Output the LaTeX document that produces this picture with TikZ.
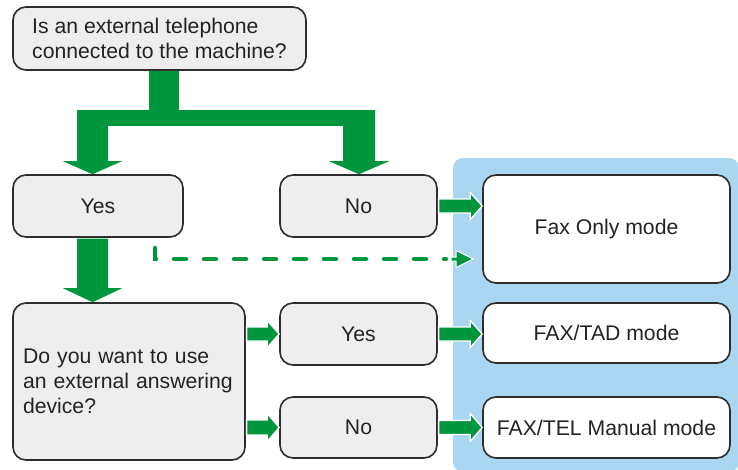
\documentclass[tikz,border=0pt]{standalone}
\usepackage{fontspec}
\setmainfont{Liberation Sans}
\usetikzlibrary{calc}
\definecolor{fgreen}{RGB}{0,150,62}
\definecolor{panelblue}{RGB}{170,214,242}
\definecolor{boxgray}{RGB}{238,238,238}
\definecolor{boxline}{RGB}{45,45,45}
\definecolor{txt}{RGB}{35,35,35}
% horizontal fat arrow: #1 start point, #2 target point (x used), #3 shaft half, #4 head half, #5 head length
\newcommand\harrow[5]{%
  \path[arrowfill] let \p1=(#1), \p2=(#2) in
   (\x1,\y1+#3) -- (\x2-#5,\y1+#3) -- (\x2-#5,\y1+#4) -- (\x2,\y1)
   -- (\x2-#5,\y1-#4) -- (\x2-#5,\y1-#3) -- (\x1,\y1-#3) -- cycle;}
% vertical fat arrow (downwards): #1 start point, #2 target point (y used)
\newcommand\varrow[5]{%
  \path[fill=fgreen] let \p1=(#1), \p2=(#2) in
   (\x1-#3,\y1) -- (\x1-#3,\y2+#5) -- (\x1-#4,\y2+#5) -- (\x1,\y2)
   -- (\x1+#4,\y2+#5) -- (\x1+#3,\y2+#5) -- (\x1+#3,\y1) -- cycle;}
\begin{document}
\begin{tikzpicture}[x=1pt,y=-1pt,
  box/.style={draw=boxline, line width=1.6pt, rounded corners=13pt, fill=boxgray,
    inner sep=0pt, text=txt, font=\fontsize{21.2}{25}\selectfont},
  result/.style={box, fill=white},
  arrowfill/.style={fill=fgreen, draw=white, line width=1.3pt},
  dashline/.style={draw=fgreen, line width=4.5pt, line cap=round, dash pattern=on 12pt off 18pt}
]
\useasboundingbox (0,0) rectangle (738,469);
\fill[white] (0,0) rectangle (738,469);
% blue panel
\fill[panelblue, rounded corners=10pt] (453,158) rectangle (739,472);

% branching arrow from the first question (drawn below the boxes)
\coordinate (stem) at (163.5,70);
\coordinate (bl) at (92.5,110);
\coordinate (br) at (359,110);
\fill[fgreen] ($(stem)+(-15,0)$) rectangle ($(stem)+(15,56)$);
\fill[fgreen] (77,110) rectangle (375,126);

% nodes
\node[box, minimum width=293pt, minimum height=63pt, align=left] (q1) at (159.5,38.5)
  {Is an external telephone\\connected to the machine?};
\node[box, minimum width=170pt, minimum height=62pt] (yes1) at (98,206) {Yes};
\node[box, minimum width=157pt, minimum height=62pt] (no1) at (358.5,206) {No};
\node[box, minimum width=232pt, minimum height=157pt, inner xsep=10pt, text width=212pt, align=left] (q2) at (129,381.5)
  {Do you want to use\\an external answering\\device?};
\node[box, minimum width=157pt, minimum height=62pt] (yes2) at (358.5,334) {Yes};
\node[box, minimum width=157pt, minimum height=61pt] (no2) at (358.5,427.5) {No};
\node[result, minimum width=247pt, minimum height=108pt] (fax) at (606.5,229) {Fax Only mode};
\node[result, minimum width=247pt, minimum height=60pt] (tad) at (606.5,333) {FAX/TAD mode};
\node[result, minimum width=247pt, minimum height=61pt] (tel) at (606.5,427.5) {FAX/TEL Manual mode};

\varrow{bl}{yes1.north}{15.5pt}{29.5pt}{13pt}
\varrow{br}{no1.north}{16pt}{30pt}{13pt}

% Yes -> second question
\varrow{$(yes1.south)+(-5.5,0.8)$}{q2.north}{15.5pt}{29.5pt}{14pt}

% horizontal arrows
\harrow{$(no1.east)+(0.8,0)$}{fax.west}{7pt}{13.5pt}{12pt}
\harrow{$(q2.east |- yes2.west)+(0.8,0)$}{yes2.west}{7pt}{13.5pt}{12pt}
\harrow{$(q2.east |- no2.west)+(0.8,0)$}{no2.west}{7.5pt}{14pt}{12pt}
\harrow{$(yes2.east)+(0.8,0)$}{tad.west}{7pt}{13.5pt}{12pt}
\harrow{$(no2.east)+(0.8,0)$}{tel.west}{7pt}{14pt}{12pt}

% dashed arrow from Yes to Fax Only mode
\coordinate (ds) at (155,248);
\coordinate (de) at ($(fax.west)+(-9,30)$);
\draw[dashline] (ds) |- (de -| 446,0);
\path[fill=fgreen, draw=white, line width=1pt] let \p1=(de) in
  (\x1-17pt,\y1+2pt) -- (\x1-17pt,\y1+8.5pt) -- (\x1,\y1) -- (\x1-17pt,\y1-8.5pt) -- (\x1-17pt,\y1-2pt)
  -- (\x1-22pt,\y1-2pt) -- (\x1-22pt,\y1+2pt) -- cycle;
\end{tikzpicture}
\end{document}
